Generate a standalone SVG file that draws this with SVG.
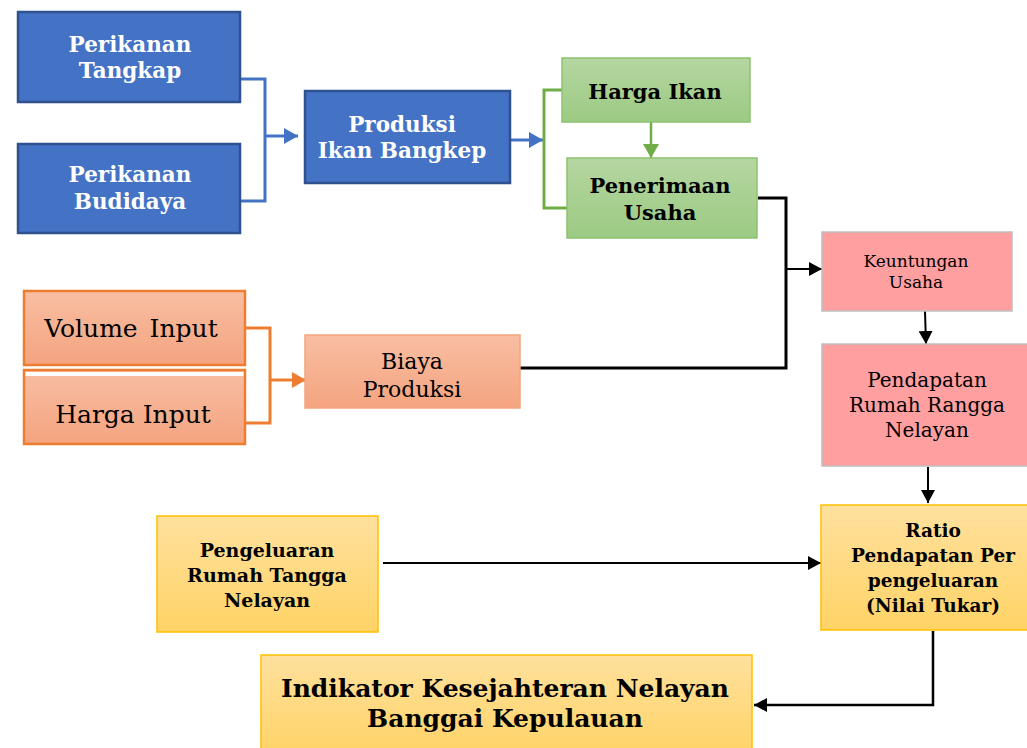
<svg xmlns="http://www.w3.org/2000/svg" width="1027" height="748" viewBox="0 0 1027 748">
<defs>
<linearGradient id="gOr" x1="0" y1="0" x2="0" y2="1"><stop offset="0" stop-color="#F8BEA3"/><stop offset="1" stop-color="#F4A47F"/></linearGradient>
<linearGradient id="gGr" x1="0" y1="0" x2="0" y2="1"><stop offset="0" stop-color="#B5D6A1"/><stop offset="1" stop-color="#9CCA83"/></linearGradient>
<linearGradient id="gYe" x1="0" y1="0" x2="0" y2="1"><stop offset="0" stop-color="#FFE19E"/><stop offset="1" stop-color="#FFD366"/></linearGradient>
<marker id="aBlue" markerUnits="userSpaceOnUse" markerWidth="14" markerHeight="16" refX="14" refY="8" orient="auto"><path d="M0,0 L14,8 L0,16 z" fill="#4472C4"/></marker>
<marker id="aGreen" markerUnits="userSpaceOnUse" markerWidth="14" markerHeight="16" refX="14" refY="8" orient="auto"><path d="M0,0 L14,8 L0,16 z" fill="#70AD47"/></marker>
<marker id="aOr" markerUnits="userSpaceOnUse" markerWidth="14" markerHeight="16" refX="14" refY="8" orient="auto"><path d="M0,0 L14,8 L0,16 z" fill="#ED7D31"/></marker>
<marker id="aBk" markerUnits="userSpaceOnUse" markerWidth="13" markerHeight="14" refX="13" refY="7" orient="auto"><path d="M0,0 L13,7 L0,14 z" fill="#000"/></marker>
</defs>
<style>
.t{font-family:"DejaVu Serif",serif;text-anchor:middle}
.b{font-weight:bold}
.w{fill:#fff}
.blue{fill:#4472C4;stroke:#2F528F;stroke-width:2.5}
.green{fill:url(#gGr);stroke:#8DC26F;stroke-width:1.5}
.or{fill:url(#gOr);stroke:#ED7D31;stroke-width:2.5}
.or2{fill:url(#gOr);stroke:#F4A47F;stroke-width:1.5}
.pink{fill:#FF9F9F;stroke:#BFBFBF;stroke-width:1.5}
.yel{fill:url(#gYe);stroke:#FFC000;stroke-width:1.5}
.c{fill:none}
</style>
<g id="connectors">
<polyline class="c" points="240,79 265,79 265,201 240,201" stroke="#4472C4" stroke-width="3"/>
<line x1="265" y1="136" x2="298" y2="136" stroke="#4472C4" stroke-width="3" marker-end="url(#aBlue)"/>
<line x1="510" y1="140" x2="543" y2="140" stroke="#4472C4" stroke-width="3" marker-end="url(#aBlue)"/>
<polyline class="c" points="562,90 544,90 544,208 570,208" stroke="#70AD47" stroke-width="3"/>
<line x1="651" y1="122" x2="651" y2="158" stroke="#70AD47" stroke-width="2.5" marker-end="url(#aGreen)"/>
<polyline class="c" points="245,328 270,328 270,423 245,423" stroke="#ED7D31" stroke-width="3"/>
<line x1="270" y1="380" x2="306" y2="380" stroke="#ED7D31" stroke-width="3" marker-end="url(#aOr)"/>
<polyline class="c" points="758,198 786,198 786,368 520,368" stroke="#000" stroke-width="3"/>
<line x1="786" y1="269" x2="822" y2="269" stroke="#000" stroke-width="2" marker-end="url(#aBk)"/>
<line x1="925" y1="311" x2="926" y2="344" stroke="#000" stroke-width="2" marker-end="url(#aBk)"/>
<line x1="928" y1="467" x2="928" y2="503" stroke="#000" stroke-width="2" marker-end="url(#aBk)"/>
<line x1="383" y1="563" x2="821" y2="563" stroke="#000" stroke-width="2" marker-end="url(#aBk)"/>
<polyline class="c" points="933,631 933,705 754,705" stroke="#000" stroke-width="2.5" marker-end="url(#aBk)"/>
</g>
<g id="perikanan-tangkap">
<rect class="blue" x="18" y="12" width="222" height="90"/>
<text class="t b w" x="130" y="52" font-size="21.5">Perikanan</text>
<text class="t b w" x="130" y="78" font-size="21.5">Tangkap</text>
</g>
<g id="perikanan-budidaya">
<rect class="blue" x="18" y="144" width="222" height="89"/>
<text class="t b w" x="130" y="182" font-size="21.5">Perikanan</text>
<text class="t b w" x="130" y="209" font-size="21.5">Budidaya</text>
</g>
<g id="produksi">
<rect class="blue" x="305" y="91" width="205" height="92"/>
<text class="t b w" x="402" y="132" font-size="21.5">Produksi</text>
<text class="t b w" x="402" y="158" font-size="21.5">Ikan Bangkep</text>
</g>
<g id="harga-ikan">
<rect class="green" x="562" y="58" width="188" height="64"/>
<text class="t b" x="655" y="99" font-size="21">Harga Ikan</text>
</g>
<g id="penerimaan">
<rect class="green" x="567" y="158" width="190" height="80"/>
<text class="t b" x="660" y="193" font-size="21">Penerimaan</text>
<text class="t b" x="660" y="220" font-size="21">Usaha</text>
</g>
<g id="volume-input">
<rect class="or" x="24" y="291" width="221" height="74"/>
<text class="t" x="131" y="337" font-size="25" word-spacing="4">Volume Input</text>
</g>
<g id="harga-input">
<rect class="or" x="24" y="370" width="221" height="74"/>
<line x1="25.5" y1="374" x2="243.5" y2="374" stroke="#fff" stroke-width="4"/>
<text class="t" x="133" y="423" font-size="25">Harga Input</text>
</g>
<g id="biaya-produksi">
<rect class="or2" x="305" y="335" width="215" height="73"/>
<text class="t" x="412" y="369" font-size="22">Biaya</text>
<text class="t" x="412" y="397" font-size="22">Produksi</text>
</g>
<g id="keuntungan">
<rect class="pink" x="822" y="232" width="190" height="79"/>
<text class="t" x="916" y="267" font-size="17">Keuntungan</text>
<text class="t" x="916" y="288" font-size="17">Usaha</text>
</g>
<g id="pendapatan">
<rect class="pink" x="822" y="344" width="215" height="122"/>
<text class="t" x="927" y="387" font-size="20">Pendapatan</text>
<text class="t" x="927" y="412" font-size="20">Rumah Rangga</text>
<text class="t" x="927" y="437" font-size="20">Nelayan</text>
</g>
<g id="pengeluaran">
<rect class="yel" x="157" y="516" width="221" height="116"/>
<text class="t b" x="267" y="557" font-size="19">Pengeluaran</text>
<text class="t b" x="267" y="582" font-size="19">Rumah Tangga</text>
<text class="t b" x="267" y="607" font-size="19">Nelayan</text>
</g>
<g id="ratio">
<rect class="yel" x="821" y="505" width="220" height="125"/>
<text class="t b" x="933" y="537" font-size="18.5">Ratio</text>
<text class="t b" x="933" y="562" font-size="18.5">Pendapatan Per</text>
<text class="t b" x="933" y="587" font-size="18.5">pengeluaran</text>
<text class="t b" x="933" y="612" font-size="18.5">(Nilai Tukar)</text>
</g>
<g id="indikator">
<rect class="yel" x="261" y="655" width="491" height="100"/>
<text class="t b" x="505" y="697" font-size="25">Indikator Kesejahteran Nelayan</text>
<text class="t b" x="505" y="727" font-size="25">Banggai Kepulauan</text>
</g>
</svg>
